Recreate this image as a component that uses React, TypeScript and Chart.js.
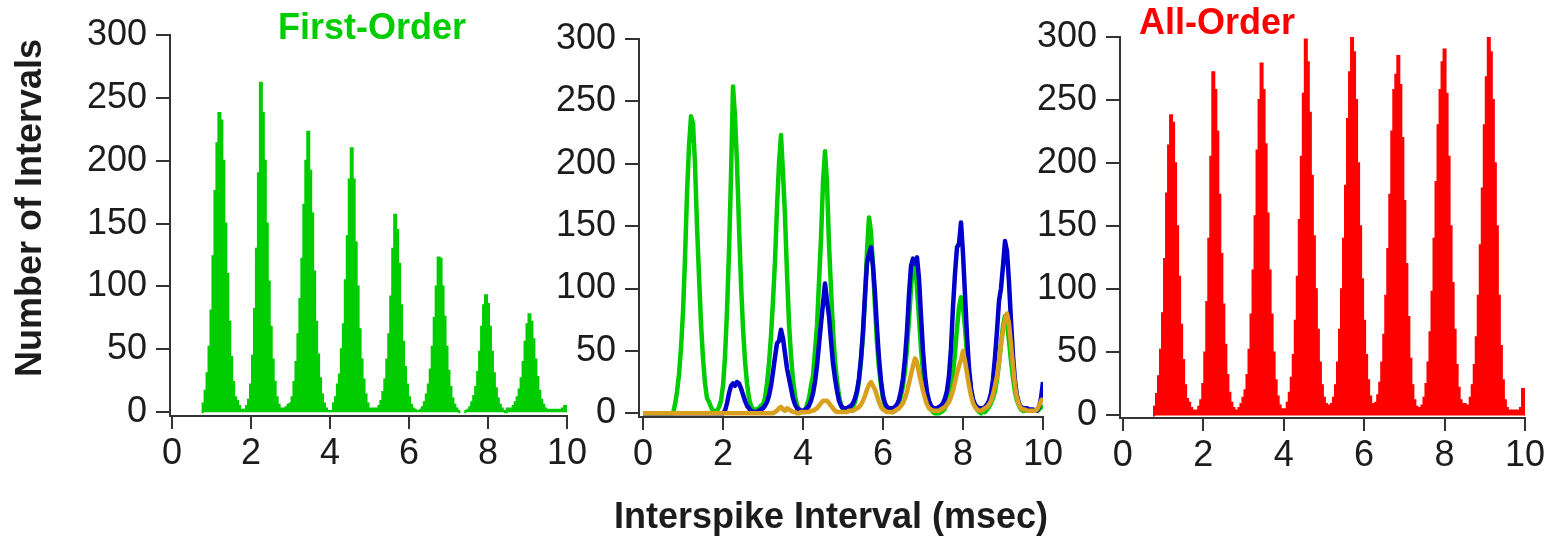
import React, { useEffect, useRef } from 'react';
import { Chart, registerables } from 'chart.js';

Chart.register(...registerables);

// ---- Data (bins of 0.05 msec from 0 to 10) ----
const BIN_START = 0;
const BIN_WIDTH = 0.05;

const X_TICKS = [0, 2, 4, 6, 8, 10];
const Y_TICKS = [0, 50, 100, 150, 200, 250, 300];

// First-order intervals (green)
const FIRST_ORDER = [
  0, 0, 0, 0, 0, 0, 0, 0, 0, 0, 0, 0, 0, 0, 0, 0, 7, 17, 31, 52,
  81, 124, 176, 214, 238, 232, 200, 150, 110, 72, 44, 24, 12, 9, 5, 2, 1, 2, 5, 10,
  22, 45, 82, 130, 190, 262, 238, 200, 150, 104, 68, 42, 24, 12, 6, 3, 3, 3, 4, 6,
  7, 12, 24, 40, 62, 90, 122, 165, 200, 223, 192, 158, 112, 72, 46, 27, 14, 7, 3, 1,
  1, 1, 7, 12, 22, 30, 50, 70, 105, 140, 185, 210, 185, 135, 100, 66, 42, 26, 14, 7,
  3, 2, 3, 3, 2, 5, 9, 16, 26, 42, 62, 92, 130, 157, 145, 118, 85, 56, 36, 22,
  12, 6, 3, 2, 1, 1, 2, 4, 8, 14, 22, 34, 52, 75, 100, 123, 122, 100, 76, 52,
  33, 20, 11, 6, 3, 1, 0, 0, 0, 1, 2, 4, 8, 13, 20, 32, 48, 68, 85, 93,
  86, 68, 48, 31, 19, 11, 6, 3, 1, 0, 3, 1, 3, 5, 8, 12, 18, 27, 40, 56,
  70, 78, 72, 58, 42, 28, 17, 10, 6, 3, 2, 2, 2, 2, 2, 2, 2, 2, 3, 5,
  5,
];

// Second-order intervals (blue)
const SECOND_ORDER = [
  0, 0, 0, 0, 0, 0, 0, 0, 0, 0, 0, 0, 0, 0, 0, 0, 0, 0, 0, 0,
  0, 0, 0, 0, 0, 0, 0, 0, 0, 0, 0, 0, 0, 0, 0, 0, 0, 0, 0, 0,
  0, 2, 8, 16, 22, 24, 22, 25, 24, 20, 15, 10, 6, 4, 2, 1, 1, 1, 2, 3,
  4, 6, 9, 14, 22, 33, 45, 56, 58, 67, 60, 48, 36, 28, 20, 12, 7, 4, 3, 2,
  2, 3, 4, 6, 10, 16, 25, 38, 55, 72, 88, 104, 90, 78, 58, 40, 28, 18, 10, 6,
  4, 4, 4, 5, 6, 8, 12, 18, 28, 44, 66, 95, 120, 128, 133, 118, 96, 68, 44, 26,
  14, 8, 5, 4, 4, 4, 5, 7, 11, 18, 28, 44, 66, 95, 118, 124, 120, 125, 108, 78,
  50, 30, 17, 10, 6, 4, 4, 4, 5, 6, 8, 12, 18, 30, 52, 85, 112, 133, 136, 153,
  128, 95, 62, 36, 20, 11, 7, 5, 4, 4, 4, 5, 7, 10, 16, 27, 45, 66, 90, 100,
  118, 138, 130, 105, 74, 46, 26, 14, 8, 5, 4, 4, 4, 3, 3, 3, 2, 2, 5, 12,
  25,
];

// Third-order intervals (gold)
const THIRD_ORDER = [
  0, 0, 0, 0, 0, 0, 0, 0, 0, 0, 0, 0, 0, 0, 0, 0, 0, 0, 0, 0,
  0, 0, 0, 0, 0, 0, 0, 0, 0, 0, 0, 0, 0, 0, 0, 0, 0, 0, 0, 0,
  0, 0, 0, 0, 0, 0, 0, 0, 0, 0, 0, 0, 0, 0, 0, 0, 0, 0, 0, 0,
  0, 0, 0, 0, 0, 0, 1, 2, 4, 5, 3, 2, 4, 3, 2, 1, 1, 0, 0, 1,
  1, 1, 1, 1, 2, 2, 3, 4, 6, 8, 10, 10, 10, 8, 6, 4, 2, 1, 1, 1,
  1, 1, 1, 2, 2, 2, 3, 4, 5, 7, 10, 14, 19, 23, 25, 22, 19, 14, 9, 5,
  3, 2, 1, 1, 1, 1, 2, 3, 4, 6, 8, 12, 17, 24, 31, 38, 44, 41, 32, 25,
  18, 12, 7, 4, 3, 2, 2, 2, 2, 3, 4, 5, 7, 9, 13, 18, 25, 32, 38, 43,
  50, 42, 32, 22, 14, 8, 5, 3, 2, 2, 3, 4, 5, 7, 10, 15, 22, 30, 42, 55,
  66, 75, 80, 72, 55, 38, 22, 12, 7, 4, 3, 3, 2, 2, 2, 2, 2, 3, 6, 10,
  12,
];

// All-order intervals (red)
const ALL_ORDER = [
  0, 0, 0, 0, 0, 0, 0, 0, 0, 0, 0, 0, 0, 0, 0, 0, 7, 17, 31, 52,
  81, 124, 176, 214, 238, 232, 200, 150, 110, 72, 44, 24, 13, 10, 6, 4, 3, 4, 7, 12,
  25, 50, 90, 140, 205, 272, 258, 225, 175, 128, 88, 56, 32, 18, 10, 6, 4, 4, 6, 9,
  14, 20, 32, 52, 80, 115, 158, 210, 250, 279, 258, 215, 160, 115, 80, 50, 28, 15, 8, 5,
  4, 5, 10, 18, 30, 48, 75, 110, 155, 205, 255, 298, 280, 240, 190, 142, 100, 68, 42, 24,
  14, 9, 8, 8, 9, 14, 24, 42, 68, 100, 140, 182, 235, 272, 300, 288, 250, 200, 150, 108,
  75, 48, 28, 15, 9, 8, 10, 16, 26, 42, 64, 95, 132, 175, 225, 258, 270, 285, 262, 220,
  170, 120, 78, 45, 24, 12, 7, 5, 6, 8, 14, 25, 42, 66, 98, 140, 185, 230, 258, 280,
  290, 255, 205, 150, 105, 68, 40, 22, 12, 6, 9, 6, 8, 14, 24, 40, 62, 95, 135, 180,
  230, 268, 300, 288, 250, 200, 150, 95, 55, 28, 12, 6, 4, 4, 4, 4, 4, 4, 6, 21,
  21,
];

// ---- Styling ----
const W = 1558;
const H = 537;
const FONT = '"Liberation Sans", Arial, Helvetica, sans-serif';
const TEXT = '#1c1c1c';
const AXIS = '#333333';
const GREEN = '#00cc00';
const BLUE = '#0000cc';
const GOLD = '#d9a01e';
const RED = '#ff0000';
const CLEAR = 'rgba(0,0,0,0)';

const toPoints = (vals: number[]) =>
  vals.map((y, i) => ({ x: +(BIN_START + i * BIN_WIDTH).toFixed(2), y }));

type TextItem = { text: string; x: number; y: number; color: string; font: string; rotate?: number };

const makeTextPlugin = (items: TextItem[]) => ({
  id: 'panelText',
  afterDraw(chart: any) {
    const ctx = chart.ctx;
    items.forEach((it) => {
      ctx.save();
      ctx.font = it.font;
      ctx.fillStyle = it.color;
      ctx.textAlign = 'center';
      ctx.textBaseline = 'alphabetic';
      ctx.translate(it.x, it.y);
      if (it.rotate) ctx.rotate(it.rotate);
      ctx.fillText(it.text, 0, 0);
      ctx.restore();
    });
  },
});

const xScale = (min: number) => ({
  type: 'linear',
  min,
  max: 10,
  afterBuildTicks: (axis: any) => {
    axis.ticks = X_TICKS.map((v) => ({ value: v }));
  },
  afterFit: (axis: any) => {
    axis.height = 60;
  },
  ticks: {
    font: { family: FONT, size: 36 },
    color: TEXT,
    padding: 3,
    maxRotation: 0,
    autoSkip: false,
    callback: (v: any) => String(v),
  },
  grid: { drawOnChartArea: false, drawTicks: true, tickLength: 13, color: AXIS, lineWidth: 2 },
  border: { display: true, color: AXIS, width: 2 },
});

const yScale = (min: number, width: number) => ({
  type: 'linear',
  min,
  max: 300,
  afterBuildTicks: (axis: any) => {
    axis.ticks = Y_TICKS.map((v) => ({ value: v }));
  },
  afterFit: (axis: any) => {
    axis.width = width;
  },
  ticks: {
    font: { family: FONT, size: 36 },
    color: TEXT,
    padding: 9,
    autoSkip: false,
    callback: (v: any) => String(v),
  },
  grid: { drawOnChartArea: false, drawTicks: true, tickLength: 14, color: AXIS, lineWidth: 2 },
  border: { display: true, color: AXIS, width: 2 },
});

const baseOptions = (padding: any, xMin: number, yMin: number, yWidth: number) => ({
  responsive: false,
  animation: false,
  events: [],
  devicePixelRatio: 1,
  layout: { padding },
  plugins: { legend: { display: false }, tooltip: { enabled: false }, title: { display: false } },
  scales: { x: xScale(xMin), y: yScale(yMin, yWidth) },
});

const histDataset = (vals: number[], color: string) => ({
  data: toPoints(vals),
  stepped: 'middle',
  fill: 'origin',
  backgroundColor: color,
  borderColor: color,
  borderWidth: 2,
  borderJoinStyle: 'miter',
  pointRadius: 0,
  segment: {
    borderColor: (c: any) => (c.p0.parsed.y === 0 && c.p1.parsed.y === 0 ? CLEAR : undefined),
  },
});

const lineDataset = (vals: number[], color: string, order: number) => ({
  data: toPoints(vals),
  fill: false,
  borderColor: color,
  borderWidth: 4.5,
  tension: 0,
  pointRadius: 0,
  borderJoinStyle: 'round',
  order,
});

const configs = [
  () => ({
    type: 'line',
    data: { datasets: [histDataset(FIRST_ORDER, GREEN)] },
    options: baseOptions({ left: 0, right: W - 567, top: 35, bottom: H - 416 - 60 }, -0.05, -3, 170),
    plugins: [
      makeTextPlugin([
        { text: 'First-Order', x: 372, y: 39, color: GREEN, font: `bold 36px ${FONT}` },
        { text: 'Number of Intervals', x: 41, y: 208, color: TEXT, font: `bold 36px ${FONT}`, rotate: -Math.PI / 2 },
      ]),
    ],
  }),
  () => ({
    type: 'line',
    data: {
      datasets: [
        lineDataset(THIRD_ORDER, GOLD, 0),
        lineDataset(SECOND_ORDER, BLUE, 1),
        lineDataset(FIRST_ORDER, GREEN, 2),
      ],
    },
    options: baseOptions({ left: 639 - 100, right: W - 1043, top: 39, bottom: H - 417 - 60 }, -0.1, -3, 100),
    plugins: [
      makeTextPlugin([
        { text: 'Interspike Interval (msec)', x: 831, y: 528, color: TEXT, font: `bold 36px ${FONT}` },
      ]),
    ],
  }),
  () => ({
    type: 'line',
    data: { datasets: [histDataset(ALL_ORDER, RED)] },
    options: baseOptions({ left: 1120 - 100, right: W - 1525, top: 37, bottom: H - 418 - 60 }, -0.07, -2, 100),
    plugins: [
      makeTextPlugin([
        { text: 'All-Order', x: 1217, y: 34, color: RED, font: `bold 36px ${FONT}` },
      ]),
    ],
  }),
];

function Panel({ make }: { make: () => any }) {
  const ref = useRef<HTMLCanvasElement | null>(null);
  useEffect(() => {
    const chart = new Chart(ref.current as HTMLCanvasElement, make());
    return () => chart.destroy();
  }, [make]);
  return (
    <canvas
      ref={ref}
      width={W}
      height={H}
      style={{ position: 'absolute', left: 0, top: 0, width: W, height: H }}
    />
  );
}

export default function App() {
  return (
    <div style={{ position: 'absolute', left: 0, top: 0, width: W, height: H, background: '#ffffff' }}>
      {configs.map((make, i) => (
        <Panel key={i} make={make} />
      ))}
    </div>
  );
}
